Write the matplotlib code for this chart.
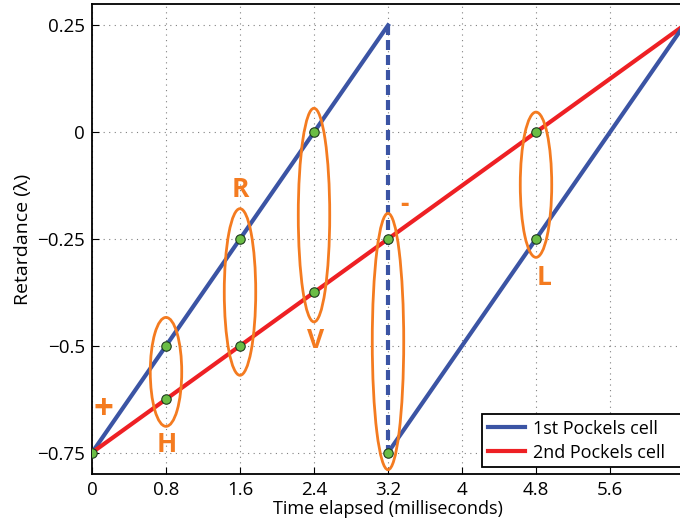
import matplotlib
matplotlib.use("Agg")
import matplotlib.pyplot as plt
from matplotlib.patches import Ellipse

plt.rcParams['font.family'] = ['Open Sans', 'DejaVu Sans']

# data
first_x = [0, 3.2]
first_y = [-0.75, 0.25]
first2_x = [3.2, 6.4]
first2_y = [-0.75, 0.25]
jump_x = [3.2, 3.2]
jump_y = [0.25, -0.75]
second_x = [0, 6.4]
second_y = [-0.75, 0.25]

pts_x = [0, 0.8, 0.8, 1.6, 1.6, 2.4, 2.4, 3.2, 3.2, 4.8, 4.8]
pts_y = [-0.75, -0.5, -0.625, -0.25, -0.5, 0, -0.375, -0.25, -0.75, 0, -0.25]

# ellipses: center x, center y, height
ell_x = [0.8, 1.6, 2.4, 3.2, 4.8]
ell_y = [-0.561, -0.374, -0.194, -0.49, -0.123]
ell_h = [0.255, 0.39, 0.50, 0.60, 0.34]

labels = ["+", "H", "R", "V", "-", "L"]
label_x = [0.12, 0.81, 1.6, 2.42, 3.38, 4.89]
label_y = [-0.65, -0.73, -0.135, -0.487, -0.17, -0.34]

xticks = [0, 0.8, 1.6, 2.4, 3.2, 4, 4.8, 5.6]
xtick_labels = ["0", "0.8", "1.6", "2.4", "3.2", "4", "4.8", "5.6"]
yticks = [-0.75, -0.5, -0.25, 0, 0.25]
ytick_labels = ["\u22120.75", "\u22120.5", "\u22120.25", "0", "0.25"]

BLUE = "#3b54a4"
RED = "#ee2024"
ORANGE = "#f47b20"
GREEN = "#6abd45"

fig = plt.figure(figsize=(6.8, 5.28), dpi=100)
ax = fig.add_axes([92 / 680, 54 / 528, 592 / 680, 470 / 528])

ax.plot(first_x, first_y, color=BLUE, lw=3, label="1st Pockels cell", zorder=3)
ax.plot(second_x, second_y, color=RED, lw=3, label="2nd Pockels cell", zorder=3)
ax.plot(first2_x, first2_y, color=BLUE, lw=3, zorder=3)
ax.plot(jump_x, jump_y, color=BLUE, lw=3, ls=(0, (2.4, 1.2)), zorder=3)

for cx, cy, h in zip(ell_x, ell_y, ell_h):
    ax.add_patch(Ellipse((cx, cy), 0.34, h, fill=False, edgecolor=ORANGE, lw=2, zorder=4))

ax.plot(pts_x, pts_y, "o", color=GREEN, mec="#1e3a1e", mew=0.8, ms=6.8, zorder=5)

for t, lx, ly in zip(labels, label_x, label_y):
    fs = 25 if t == "+" else 19
    ax.text(lx, ly, t, color=ORANGE, fontsize=fs, fontweight="bold",
            ha="center", va="center", zorder=6)

ax.set_xlim(0, 6.4)
ax.set_ylim(-0.8, 0.3)
ax.set_xticks(xticks)
ax.set_xticklabels(xtick_labels)
ax.set_yticks(yticks)
ax.set_yticklabels(ytick_labels)
ax.tick_params(direction="in", labelsize=13.5, length=5, width=0.8, pad=5)
ax.grid(True, ls=(0, (1, 4)), color="#808080", lw=0.8)
for s in ax.spines.values():
    s.set_linewidth(1.3)

ax.set_xlabel("Time elapsed (milliseconds)", fontsize=13, labelpad=1)
ax.set_ylabel("Retardance (\u03bb)", fontsize=14, labelpad=4)

leg = ax.legend(loc="lower left", bbox_to_anchor=(0.659, 0.015, 0.341, 0.1), mode="expand",
                fontsize=13, fancybox=False, framealpha=1, edgecolor="black",
                handlelength=2.1, handletextpad=0.4, labelspacing=0.33,
                borderpad=0.3, borderaxespad=0)
leg.get_frame().set_linewidth(1.3)

fig.savefig("out.png", dpi=100)
